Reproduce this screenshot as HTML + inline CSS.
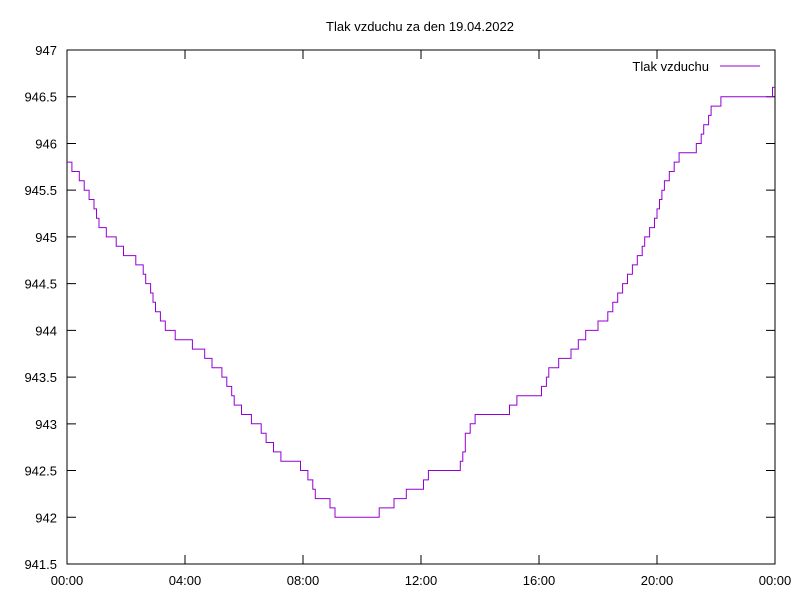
<!DOCTYPE html>
<html><head><meta charset="utf-8"><style>
body{margin:0;background:#fff;}
svg{display:block;font-family:"Liberation Sans",sans-serif;}
</style></head><body>
<svg id="chart" width="800" height="600">
<text x="420" y="31" font-size="13" text-anchor="middle">Tlak vzduchu za den 19.04.2022</text>
<rect x="67" y="50" width="708" height="514" fill="none" stroke="#000"/>
<g id="axes"></g>
<g>
<text x="709" y="71" font-size="13" text-anchor="end">Tlak vzduchu</text>
<line x1="720" y1="66" x2="760" y2="66" stroke="#9400d3"/>
</g>
<path id="series" fill="none" stroke="#9400d3" stroke-width="1"/>
</svg>
<script>
const hours=[0,0.2,0.5,0.8,1.1,1.46,2,2.5,2.8,3.15,3.5,3.8,4.2,4.5,5,5.35,5.7,6,6.4,6.7,7.05,7.4,7.9,8.2,8.4,8.75,9.1,9.6,9.9,10.3,10.8,11.3,11.6,12,12.3,13,13.3,13.5,13.8,14.2,14.7,15.2,15.7,16,16.4,16.9,17.2,17.7,18.2,18.7,19.2,19.8,20.3,20.8,21.3,21.8,22.3,22.8,23.4,24];
const values=[945.8,945.7,945.6,945.4,945.1,945.0,944.8,944.7,944.4,944.1,944.0,943.9,943.85,943.8,943.6,943.5,943.2,943.1,943.0,942.85,942.7,942.6,942.55,942.4,942.25,942.2,942.0,942.0,941.95,942.0,942.1,942.2,942.3,942.3,942.5,942.5,942.5,942.9,943.05,943.1,943.05,943.25,943.25,943.3,943.6,943.7,943.8,944.0,944.1,944.4,944.7,945.1,945.6,945.9,945.95,946.35,946.5,946.55,946.5,946.56];
const yTicks=[941.5,942,942.5,943,943.5,944,944.5,945,945.5,946,946.5,947];
const xTicks=[0,4,8,12,16,20,24];
const xTickLabels=["00:00","04:00","08:00","12:00","16:00","20:00","00:00"];
const X=h=>67+h/24*708;
const Y=v=>564-(v-941.5)/5.5*514;
const NS="http://www.w3.org/2000/svg";
const ax=document.getElementById('axes');
yTicks.forEach(v=>{
  const y=Y(v);
  const l=document.createElementNS(NS,'path');
  l.setAttribute('d',`M67 ${y}h9M775 ${y}h-9`);l.setAttribute('stroke','#000');
  
  
  ax.appendChild(l);
  const t=document.createElementNS(NS,'text');
  t.setAttribute('x',57);t.setAttribute('y',y+5);t.setAttribute('font-size','13');t.setAttribute('text-anchor','end');
  t.textContent=String(v);
  
  
  ax.appendChild(t);
});
xTicks.forEach((h,i)=>{
  const x=X(h);
  const l=document.createElementNS(NS,'path');
  l.setAttribute('d',`M${x} 564v-9M${x} 50v9`);l.setAttribute('stroke','#000');
  
  
  ax.appendChild(l);
  const t=document.createElementNS(NS,'text');
  t.setAttribute('x',x);t.setAttribute('y',585);t.setAttribute('font-size','13');t.setAttribute('text-anchor','middle');
  t.textContent=xTickLabels[i];
  
  
  ax.appendChild(t);
});
let d='';
const step=1/60*5;
for(let h=0,i=0;h<=24.0001;h+=step){
  while(i<hours.length-2&&h>hours[i+1])i++;
  const f=Math.min(1,Math.max(0,(h-hours[i])/(hours[i+1]-hours[i])));
  const v=Math.round((values[i]+(values[i+1]-values[i])*f)*10)/10;
  const x=X(h).toFixed(1),y=Y(v).toFixed(1);
  d+= d?`H${x}V${y}`:`M${x} ${y}`;
}
document.getElementById('series').setAttribute('d',d);
</script>
</body></html>
